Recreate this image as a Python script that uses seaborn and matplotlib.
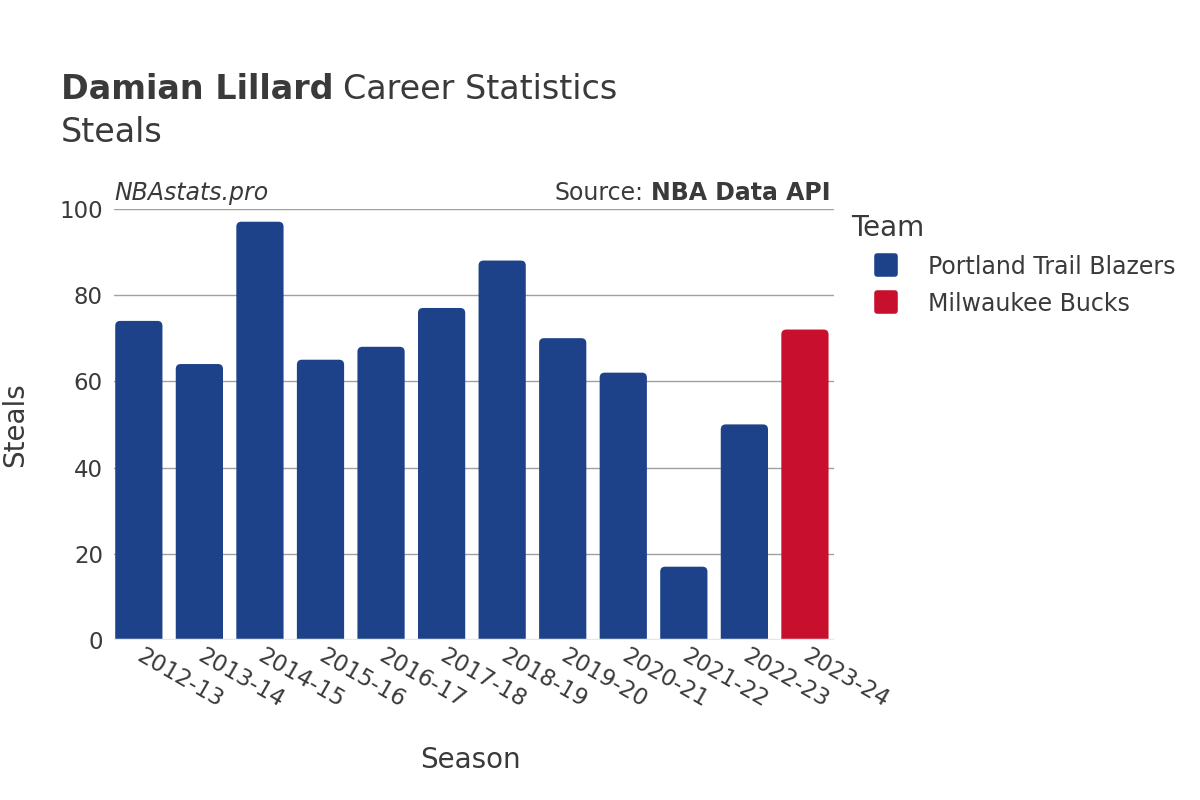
import matplotlib
matplotlib.use("Agg")
import matplotlib.pyplot as plt
from matplotlib.patches import FancyBboxPatch
from matplotlib.markers import MarkerStyle
import seaborn as sns
import pandas as pd

seasons = ["2012-13", "2013-14", "2014-15", "2015-16", "2016-17", "2017-18",
           "2018-19", "2019-20", "2020-21", "2021-22", "2022-23", "2023-24"]
steals = [74, 64, 97, 65, 68, 77, 88, 70, 62, 17, 50, 72]
teams = ["Portland Trail Blazers"] * 11 + ["Milwaukee Bucks"]
team_colors = {"Portland Trail Blazers": "#1D428A", "Milwaukee Bucks": "#C8102E"}

df = pd.DataFrame({"Season": seasons, "Steals": steals, "Team": teams})

sns.set_style("white")
plt.rcParams["font.family"] = ["DejaVu Sans"]
txt = "#3a3a3a"

fig = plt.figure(figsize=(12, 8), dpi=100)
ax = fig.add_axes([0.095, 0.2, 0.6, 0.539])

sns.barplot(data=df, x="Season", y="Steals", hue="Team", palette=team_colors,
            dodge=False, width=0.78, ax=ax, legend=False, saturation=1)

ax.set_ylim(0, 100)
ax.set_xlim(-0.41, 11.48)

# swap plain bars for ones with rounded tops
px_x = 0.6 * 1200 / 11.89
px_y = 0.539 * 800 / 100.0
for p in list(ax.patches):
    x, w, h = p.get_x(), p.get_width(), p.get_height()
    c = p.get_facecolor()
    p.remove()
    rb = FancyBboxPatch((x, -3), w, h + 3,
                        boxstyle="round,pad=0,rounding_size=%f" % (5 / px_x),
                        mutation_aspect=px_x / px_y,
                        facecolor=c, edgecolor="none", zorder=2)
    ax.add_patch(rb)

ax.set_yticks([0, 20, 40, 60, 80, 100])
ax.grid(axis="y", color="#a0a0a0", linewidth=1)
ax.set_axisbelow(True)
ax.axhline(0, color="#e8e8e8", linewidth=2.5, zorder=3)
for s in ax.spines.values():
    s.set_visible(False)
ax.tick_params(axis="y", length=0, labelsize=16.5, colors=txt, pad=8)
ax.tick_params(axis="x", length=0, labelsize=16.5, colors=txt, pad=10)
plt.setp(ax.get_xticklabels(), rotation=-30, ha="left", va="center",
         rotation_mode="anchor")

ax.set_xlabel("Season", fontsize=20, color=txt)
ax.set_ylabel("Steals", fontsize=20, color=txt)
ax.xaxis.set_label_coords(0.495, -0.278)
ax.xaxis.label.set_va("center")
ax.yaxis.set_label_coords(-0.137, 0.5)
ax.yaxis.label.set_va("center")

fig.canvas.draw()
r = fig.canvas.get_renderer()
inv = fig.transFigure.inverted()

t1 = fig.text(0.051, 0.876, "Damian Lillard", fontsize=24, fontweight="bold", color=txt)
x1 = inv.transform(t1.get_window_extent(r))[1][0]
fig.text(x1 + 0.008, 0.876, "Career Statistics", fontsize=24, color=txt)
fig.text(0.051, 0.822, "Steals", fontsize=24, color=txt)

fig.text(0.095, 0.75, "NBAstats.pro", fontsize=17, style="italic", color=txt)
t2 = fig.text(0.692, 0.75, "NBA Data API", fontsize=17, fontweight="bold", color=txt, ha="right")
x2 = inv.transform(t2.get_window_extent(r))[0][0]
fig.text(x2 - 0.006, 0.75, "Source:", fontsize=17, color=txt, ha="right")

sq = MarkerStyle("s", joinstyle="round")
handles = [plt.Line2D([], [], marker=sq, linestyle="none", markersize=13,
                      markeredgewidth=4,
                      markerfacecolor=team_colors[t], markeredgecolor=team_colors[t])
           for t in team_colors]
leg = fig.legend(handles, list(team_colors), title="Team", loc="upper left",
                 bbox_to_anchor=(0.709, 0.733), frameon=False, fontsize=17,
                 title_fontsize=20, labelcolor=txt, handlelength=3.0,
                 handletextpad=0.25, labelspacing=0.55, borderaxespad=0,
                 borderpad=0)
leg.get_title().set_color(txt)
leg._legend_box.align = "left"

fig.savefig("out.png", dpi=100, facecolor="white")
